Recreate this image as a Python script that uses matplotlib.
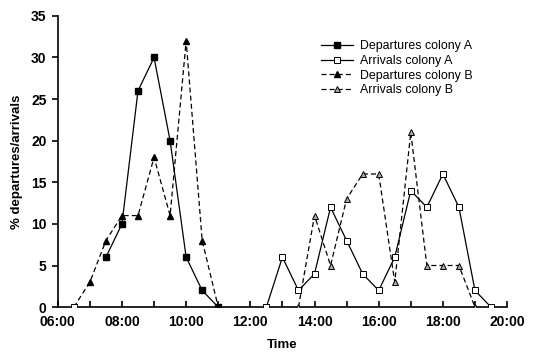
import matplotlib as mpl
mpl.use('Agg')
import matplotlib.pyplot as plt
import numpy as np

mpl.rcParams['font.family'] = ['Liberation Sans', 'DejaVu Sans']

# times as "HH:MM"
dep_a_times = ["07:30", "08:00", "08:30", "09:00", "09:30", "10:00", "10:30", "11:00"]
dep_a_vals = [6, 10, 26, 30, 20, 6, 2, 0]

dep_b_times = ["06:30", "07:00", "07:30", "08:00", "08:30", "09:00", "09:30", "10:00", "10:30", "11:00"]
dep_b_vals = [0, 3, 8, 11, 11, 18, 11, 32, 8, 0]

arr_a_times = ["06:30", "12:00", "12:30", "13:00", "13:30", "14:00", "14:30", "15:00", "15:30",
               "16:00", "16:30", "17:00", "17:30", "18:00", "18:30", "19:00", "19:30"]
arr_a_vals = [0, np.nan, 0, 6, 2, 4, 12, 8, 4, 2, 6, 14, 12, 16, 12, 2, 0]

arr_b_times = ["06:30", "12:00", "13:30", "14:00", "14:30", "15:00", "15:30", "16:00", "16:30",
               "17:00", "17:30", "18:00", "18:30", "19:00"]
arr_b_vals = [0, np.nan, 0, 11, 5, 13, 16, 16, 3, 21, 5, 5, 5, 0]

hour_ticks = list(range(6, 21))
hour_labels = ["%02d:00" % h if h % 2 == 0 else "" for h in hour_ticks]


def to_hours(times):
    return [int(t[:2]) + int(t[3:]) / 60.0 for t in times]


fig = plt.figure(figsize=(5.4, 3.53), dpi=100)
ax = fig.add_axes([0.107, 0.130, 0.832, 0.825])

ms = 4.8
ax.plot(to_hours(dep_b_times), dep_b_vals, color='k', lw=0.9, ls=(0, (4, 2.5)),
        marker='^', ms=ms, mfc='k', mec='k', label="Departures colony B", zorder=3)
ax.plot(to_hours(dep_a_times), dep_a_vals, color='k', lw=0.9, ls='-',
        marker='s', ms=ms, mfc='k', mec='k', label="Departures colony A", zorder=3)
ax.plot(to_hours(arr_b_times), arr_b_vals, color='k', lw=0.9, ls=(0, (4, 2.5)),
        marker='^', ms=ms, mfc='#a8a8a8', mec='k', mew=0.7, label="Arrivals colony B", zorder=4)
ax.plot(to_hours(arr_a_times), arr_a_vals, color='k', lw=0.9, ls='-',
        marker='s', ms=ms, mfc='white', mec='k', mew=0.7, label="Arrivals colony A", zorder=4)

ax.set_xlim(6, 20)
ax.set_ylim(0, 35)
ax.set_xticks(hour_ticks)
ax.set_xticklabels(hour_labels)
ax.set_yticks(range(0, 36, 5))
ax.spines['top'].set_visible(False)
ax.spines['right'].set_visible(False)
ax.spines['left'].set_linewidth(1.2)
ax.spines['bottom'].set_linewidth(1.2)
ax.tick_params(axis='x', direction='in', length=4, width=1.2, labelsize=10, pad=6)
ax.tick_params(axis='y', direction='out', length=4, width=1.2, labelsize=10, pad=4)
for lab in ax.get_xticklabels() + ax.get_yticklabels():
    lab.set_fontweight('bold')
ax.set_xlabel("Time", fontsize=9.5, fontweight='bold', labelpad=7)
ax.set_ylabel("% departures/arrivals", fontsize=9.5, fontweight='bold', labelpad=6)

h, l = ax.get_legend_handles_labels()
order = [1, 3, 0, 2]
ax.legend([h[i] for i in order], [l[i] for i in order], loc='upper left',
          bbox_to_anchor=(0.56, 0.955), frameon=False, fontsize=8.9,
          handlelength=2.6, handletextpad=0.6, labelspacing=0.22, markerscale=0.85)

fig.savefig("out.png", dpi=100)
